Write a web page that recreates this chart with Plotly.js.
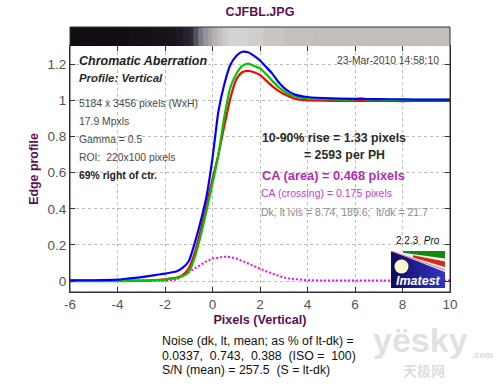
<!DOCTYPE html>
<html>
<head>
<meta charset="utf-8">
<script src="https://cdn.plot.ly/plotly-3.0.1.min.js"></script>
<style>html,body{margin:0;padding:0;background:#fff;}#chart{width:500px;height:384px;}</style>
</head>
<body>
<div id="chart"></div>
<script>
// ---- data ----
const profX = [-6, -5, -4, -3.5, -3, -2.5, -2, -1.75, -1.5, -1.25, -1, -0.75, -0.5, -0.25, 0, 0.25, 0.5, 0.75, 1, 1.25, 1.5, 1.75, 2, 2.25, 2.5, 2.75, 3, 3.25, 3.5, 4, 5, 6, 6.25, 6.5, 7, 8, 9, 10];
const blueY = [0.005, 0.005, 0.008, 0.015, 0.022, 0.032, 0.042, 0.048, 0.055, 0.075, 0.11, 0.21, 0.33, 0.47, 0.68, 0.94, 1.09, 1.195, 1.245, 1.268, 1.265, 1.245, 1.22, 1.185, 1.15, 1.105, 1.07, 1.045, 1.03, 1.018, 1.01, 1.008, 1.008, 1.007, 1.006, 1.005, 1.003, 1.003];
const greenY = [0.0, 0.0, 0.0, 0.001, 0.002, 0.004, 0.008, 0.012, 0.017, 0.028, 0.05, 0.13, 0.25, 0.39, 0.54, 0.70, 0.91, 1.07, 1.145, 1.19, 1.203, 1.19, 1.176, 1.145, 1.11, 1.077, 1.05, 1.03, 1.02, 1.01, 1.005, 1.005, 1.01, 1.004, 1.003, 1.002, 1.002, 1.002];
const redY = [0.003, 0.003, 0.003, 0.003, 0.003, 0.005, 0.01, 0.015, 0.02, 0.035, 0.07, 0.155, 0.28, 0.42, 0.565, 0.70, 0.86, 1.01, 1.115, 1.155, 1.163, 1.155, 1.14, 1.11, 1.08, 1.055, 1.035, 1.02, 1.008, 1.0, 0.997, 0.997, 0.997, 0.997, 0.997, 0.995, 0.997, 0.997];
const caY = [0, 0, 0, 0, 0, 0, 0, 0.003, 0.01, 0.03, 0.05, 0.07, 0.09, 0.11, 0.125, 0.132, 0.135, 0.133, 0.125, 0.112, 0.097, 0.082, 0.068, 0.055, 0.043, 0.03, 0.02, 0.014, 0.01, 0.005, 0.003, 0.003, 0.003, 0.003, 0.003, 0.003, 0.003, 0.003];

// grey strip at the top (image of the edge), brightness 0..1
const stripX = [-6, -5, -4, -3, -2.2, -1.7, -1.37, -1.1, -0.9, -0.7, -0.5, -0.3, -0.1, 0.1, 0.3, 0.5, 0.8, 1.2, 1.8, 2.5, 3.5, 5, 7, 9, 10];
const stripLevel = [0, 0, 0.01, 0.03, 0.05, 0.08, 0.12, 0.22, 0.3, 0.42, 0.55, 0.66, 0.76, 0.85, 0.92, 0.97, 1.0, 1.0, 0.98, 0.95, 0.93, 0.92, 0.92, 0.92, 0.92];

const xTickVals = [-6, -4, -2, 0, 2, 4, 6, 8, 10];
const xTickText = ['-6', '-4', '-2', '0', '2', '4', '6', '8', '10'];
const yTickVals = [0, 0.2, 0.4, 0.6, 0.8, 1, 1.2];
const yTickText = ['0', '0.2', '0.4', '0.6', '0.8', '1', '1.2'];

// ---- layout helpers (pixel -> paper) ----
const L = 70, R = 450, T = 27, B = 292, AXTOP = 46;
const px = v => (v - L) / (R - L);
const py = v => (B - v) / (B - T);
const FONT = 'Liberation Sans, Arial, sans-serif';

const traces = [
  {type: 'heatmap', x: stripX, y: [0], z: [stripLevel], xaxis: 'x', yaxis: 'y2', zmin: 0, zmax: 1,
   colorscale: [[0, '#110d12'], [0.3, '#2e2838'], [0.6, '#8c8a96'], [0.92, '#c2beb9'], [1, '#d4d2d2']],
   showscale: false, hoverinfo: 'skip', zsmooth: false},
  {type: 'scatter', mode: 'lines', x: profX, y: caY, line: {color: '#ff00ff', width: 2, dash: '2px,2px'}, hoverinfo: 'skip'},
  {type: 'scatter', mode: 'lines', x: profX, y: redY, line: {color: '#ff0000', width: 2.2, shape: 'spline', smoothing: 0.6}, hoverinfo: 'skip'},
  {type: 'scatter', mode: 'lines', x: profX, y: greenY, line: {color: '#00c800', width: 2.2, shape: 'spline', smoothing: 0.6}, hoverinfo: 'skip'},
  {type: 'scatter', mode: 'lines', x: profX, y: blueY, line: {color: '#0000ff', width: 2.2, shape: 'spline', smoothing: 0.6}, hoverinfo: 'skip'}
];

function ann(text, x, y, opts) {
  return Object.assign({text: text, x: px(x), y: py(y), xref: 'paper', yref: 'paper',
    xanchor: 'left', yanchor: 'middle', showarrow: false,
    font: {family: FONT, size: 10.4, color: '#4a4a4a'}}, opts || {});
}
const f = (size, color, extra) => Object.assign({family: FONT, size: size, color: color}, extra || {});
const NB = '\u00a0';

const annotations = [
  ann('<b><i>Chromatic Aberration</i></b>', 77, 61, {font: f(12.5, '#1e1e1e')}),
  ann('<b><i>Profile: Vertical</i></b>', 77, 78, {font: f(11.4, '#2a2a2a')}),
  ann('5184 x 3456 pixels (WxH)', 77, 103),
  ann('17.9 Mpxls', 77, 121),
  ann('Gamma = 0.5', 77, 139),
  ann('ROI:' + NB + ' 220x100 pixels', 77, 157),
  ann('<b>69% right of ctr.</b>', 77, 175, {font: f(10.4, '#222')}),
  ann('23-Mar-2010 14:58:10', 441, 60.5, {xanchor: 'right', font: f(10.3, '#444')}),
  ann('<b>10-90% rise = 1.33 pixels</b>', 260, 137.5, {font: f(12.3, '#2a2a2a')}),
  ann('<b>= 2593 per PH</b>', 301.7, 155, {font: f(12.3, '#2a2a2a')}),
  ann('<b>CA (area) = 0.468 pixels</b>', 260, 175, {font: f(12.8, '#b42cb4')}),
  ann('CA (crossing) = 0.175 pixels', 259.3, 192.5, {font: f(10.5, '#cc3ccc')}),
  ann('Dk, lt lvls = 8.74, 189.6;' + NB + NB + 'lt/dk = 21.7', 259.3, 212, {font: f(10.5, '#8c8c8c')}),
  ann('2.2.3' + NB + NB + '<i>Pro</i>', 442, 240, {xanchor: 'right', font: f(10, '#111')}),
  ann('<b><i>Imatest</i></b>', 418, 280.5, {xanchor: 'center', font: f(12.5, '#ffffff')}),
  ann('Noise (dk, lt, mean; as % of lt-dk) =', 160, 341, {font: f(12.3, '#111')}),
  ann('0.0337,' + NB + ' 0.743,' + NB + ' 0.388' + NB + ' (ISO =' + NB + ' 100)', 160, 355.5, {font: f(12.3, '#111')}),
  ann('S/N (mean) = 257.5' + NB + ' (S = lt-dk)', 160, 370, {font: f(12.3, '#111')}),
  ann('<b>yësky</b>', 420, 340, {xanchor: 'center', font: f(34, 'rgba(200,200,200,0.55)')}),
  ann('<b>.com</b>', 470, 355, {xanchor: 'left', font: f(9, 'rgba(200,200,200,0.7)')}),
  ann('<b>天极网</b>', 424, 370, {xanchor: 'center', font: {family: 'Noto Sans CJK SC', size: 14, color: 'rgba(200,200,200,0.6)'}})
];

const logoSvg = '<svg xmlns="http://www.w3.org/2000/svg" width="54" height="37" viewBox="0 0 54 37">' +
  '<defs><linearGradient id="g" x1="0" y1="0" x2="1" y2="0"><stop offset="0" stop-color="#0c0c60"/><stop offset="1" stop-color="#3434c8"/></linearGradient></defs>' +
  '<rect width="54" height="37" fill="url(#g)"/>' +
  '<polygon points="0,0 54,0 54,21" fill="#f4eef4"/>' +
  '<polygon points="12,0 54,0 54,7.5 12,1.7" fill="#128a12"/>' +
  '<polygon points="22,4.3 54,10.5 54,16 22,6.5" fill="#d03010"/>' +
  '<line x1="0" y1="0" x2="54" y2="19" stroke="#e070a0" stroke-width="1"/>' +
  '<circle cx="10.5" cy="15.5" r="7" fill="#fffac8"/></svg>';

const layout = {
  width: 500, height: 384,
  margin: {l: L, r: 500 - R, t: T, b: 384 - B, pad: 0},
  paper_bgcolor: '#ffffff', plot_bgcolor: '#ffffff',
  showlegend: false,
  title: {text: 'CJFBL.JPG', font: {family: FONT, size: 12.5, color: '#5b0f55', weight: 'bold'},
          xref: 'paper', x: 0.5, xanchor: 'center', yref: 'container', y: 1 - 12 / 384, yanchor: 'middle'},
  xaxis: {range: [-6, 10], tickvals: xTickVals, ticktext: xTickText, anchor: 'y',
          ticks: 'inside', ticklen: 5, tickcolor: '#333', mirror: 'ticks', showline: true, linecolor: '#333', linewidth: 1,
          showgrid: true, gridcolor: '#bdbdbd', griddash: 'dot', gridwidth: 1, zeroline: false,
          tickfont: {family: FONT, size: 13.5, color: '#555'},
          title: {text: 'Pixels (Vertical)', standoff: 3, font: {family: FONT, size: 12.6, color: '#5b0f55', weight: 'bold'}}},
  yaxis: {domain: [0, (B - AXTOP) / (B - T)], range: [-0.06, 1.30], tickvals: yTickVals, ticktext: yTickText,
          ticks: 'inside', ticklen: 5, tickcolor: '#333', mirror: 'ticks', showline: true, linecolor: '#333', linewidth: 1,
          showgrid: true, gridcolor: '#bdbdbd', griddash: 'dot', gridwidth: 1, zeroline: false,
          tickfont: {family: FONT, size: 13.5, color: '#555'},
          title: {text: 'Edge profile', standoff: 6, font: {family: FONT, size: 12.4, color: '#5b0f55', weight: 'bold'}}},
  yaxis2: {domain: [(B - AXTOP) / (B - T), 1], range: [-0.5, 0.5], anchor: 'x', showticklabels: false,
           showgrid: false, zeroline: false, ticks: '', showline: false},
  shapes: [
    {type: 'rect', xref: 'paper', yref: 'paper', x0: 0, x1: 1, y0: 0, y1: 1, line: {color: '#333', width: 1}, fillcolor: 'rgba(0,0,0,0)', layer: 'above'}
  ],
  images: [
    {source: 'data:image/svg+xml;charset=utf-8,' + encodeURIComponent(logoSvg), xref: 'paper', yref: 'paper',
     x: px(391), y: py(251), sizex: 54 / (R - L), sizey: 37 / (B - T), xanchor: 'left', yanchor: 'top', sizing: 'stretch', layer: 'above'}
  ],
  annotations: annotations
};

Plotly.newPlot('chart', traces, layout, {staticPlot: true, displayModeBar: false});
</script>
</body>
</html>
